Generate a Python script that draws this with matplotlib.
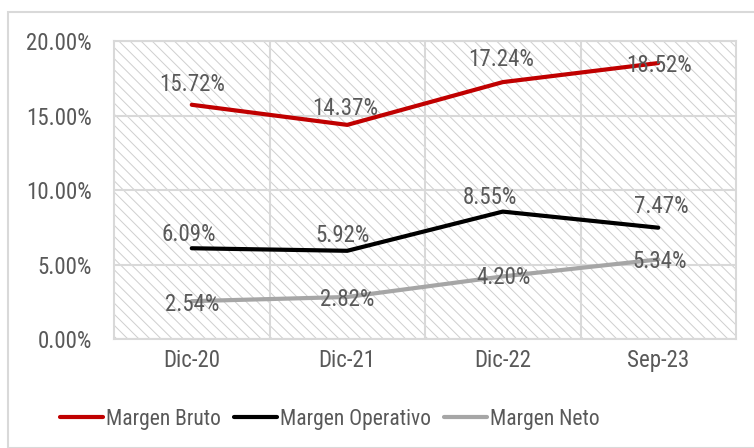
import matplotlib
matplotlib.use("Agg")
import matplotlib.pyplot as plt
import matplotlib.ticker as mticker
from matplotlib.patches import Rectangle

periods = ["Dic-20", "Dic-21", "Dic-22", "Sep-23"]
margen_bruto = [15.72, 14.37, 17.24, 18.52]
margen_operativo = [6.09, 5.92, 8.55, 7.47]
margen_neto = [2.54, 2.82, 4.20, 5.34]
y_ticks = [0, 5, 10, 15, 20]

plt.rcParams["font.family"] = ["Roboto Condensed", "Liberation Sans", "DejaVu Sans"]
plt.rcParams["hatch.linewidth"] = 0.7

TEXT = "#595959"
GRID = "#d9d9d9"
HATCH = "#cfcfcf"
FS = 16.5

fig = plt.figure(figsize=(7.54, 4.48), dpi=100)
fig.patches.append(Rectangle((8 / 754, 0), 1, 1 - 12 / 448, transform=fig.transFigure,
                             fill=False, edgecolor=GRID, linewidth=1.5))
ax = fig.add_axes([114 / 754, 1 - 339 / 448, 622 / 754, 298 / 448])
# diagonal hatch fill behind the plot area
ax.add_patch(Rectangle((0, 0), 1, 1, transform=ax.transAxes, facecolor="white",
                       edgecolor=HATCH, linewidth=0, hatch="\\\\\\", zorder=0))

x = list(range(len(periods)))
series = [
    ("Margen Bruto", margen_bruto, "#c00000"),
    ("Margen Operativo", margen_operativo, "#000000"),
    ("Margen Neto", margen_neto, "#a6a6a6"),
]
for name, vals, col in series:
    ax.plot(x, vals, color=col, linewidth=3, solid_capstyle="round", label=name, zorder=3)

# label offsets in pixels (dx, dy) relative to each point
offsets = {
    "Margen Bruto": [(0, 20), (-2, 16), (-2, 23), (1, -2)],
    "Margen Operativo": [(-3, 14), (-5, 15), (-13, 14), (3, 21)],
    "Margen Neto": [(0, -3), (0, -3), (1, -1), (1, -2)],
}
for name, vals, col in series:
    for xi, v, (dx, dy) in zip(x, vals, offsets[name]):
        ax.annotate(f"{v:.2f}%", (xi, v), xytext=(dx * 0.72, dy * 0.72),
                    textcoords="offset points", ha="center", va="center",
                    fontsize=FS, color=TEXT, zorder=4)

ax.set_xlim(-0.5, 3.5)
ax.set_ylim(0, 20)
ax.set_yticks(y_ticks)
ax.yaxis.set_major_formatter(mticker.FuncFormatter(lambda v, _: f"{v:.2f}%"))
ax.set_xticks(x)
ax.set_xticklabels(periods)
ax.set_xticks([0.5, 1.5, 2.5], minor=True)
ax.grid(axis="y", which="major", color=GRID, linewidth=1.5, zorder=1)
ax.grid(axis="x", which="minor", color=GRID, linewidth=1.5, zorder=1)
ax.tick_params(axis="both", which="both", length=0, labelsize=FS, labelcolor=TEXT)
ax.tick_params(axis="y", pad=16)
ax.tick_params(axis="x", pad=7)
for s in ax.spines.values():
    s.set_color(GRID)
    s.set_linewidth(1.5)

fig.legend(loc="center", bbox_to_anchor=(330 / 754, 1 - 419 / 448), ncol=3,
           frameon=False, fontsize=15.5, labelcolor=TEXT, handlelength=2.0,
           handletextpad=0.15, columnspacing=0.6)

fig.savefig("out.png", dpi=100, facecolor="white")
